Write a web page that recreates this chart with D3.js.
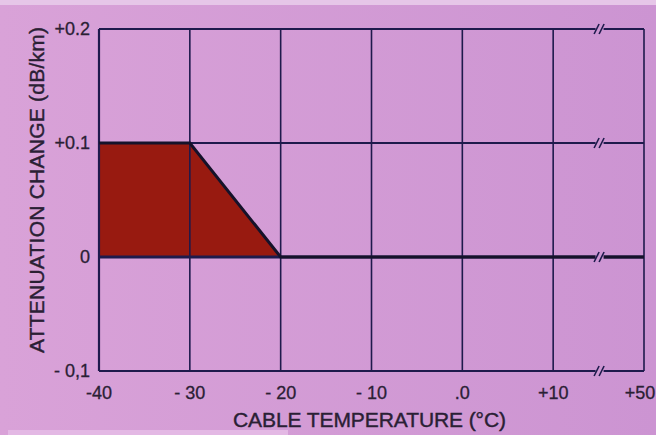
<!DOCTYPE html>
<html>
<head>
<meta charset="utf-8">
<script src="https://cdn.jsdelivr.net/npm/d3@7"></script>
<style>
  body { margin: 0; background: #d09ad4; }
  svg { display: block; }
</style>
</head>
<body>
<script>
// data
var xTicks = [-40, -30, -20, -10, 0, 10, 20];   // 20 = position after the axis break
var xLabels = ["-40", "- 30", "- 20", "- 10", ".0", "+10", "+50"];
var yTicks = [-0.1, 0, 0.1, 0.2];
var yLabels = ["- 0,1", "0", "+0.1", "+0.2"];
var bandTemp = [-40, -30, -20, 20];
var bandVal = [0.1, 0.1, 0, 0];

var w = 656, h = 435;
var ink = "#1e1a4c";
var txt = "#2a2034";
var font = "'Liberation Sans', Arial, Helvetica, sans-serif";

var svg = d3.select("body").append("svg")
  .attr("width", w)
  .attr("height", h);

// paper background
var defs = svg.append("defs");
var grad = defs.append("linearGradient").attr("id", "paper");
grad.append("stop").attr("offset", "0%").attr("stop-color", "#d9a2d8");
grad.append("stop").attr("offset", "100%").attr("stop-color", "#cc94d2");
svg.append("rect").attr("width", w).attr("height", h).attr("fill", "url(#paper)");
svg.append("rect").attr("width", w).attr("height", 5).attr("fill", "#e6c6e8");
svg.append("rect").attr("x", 8).attr("y", 430).attr("width", 280).attr("height", 5).attr("fill", "#e3b8e4");

var x = d3.scaleLinear().domain([-40, 20]).range([99, 644]);
var y = d3.scaleLinear().domain([-0.1, 0.2]).range([371, 29]);

// filled band
var band = bandTemp.map(function(t, i) { return [t, bandVal[i]]; });
var area = d3.area()
  .x(function(d) { return x(d[0]); })
  .y0(y(0))
  .y1(function(d) { return y(d[1]); });
svg.append("path")
  .datum(band.slice(0, 3))
  .attr("d", area)
  .attr("fill", "#981a10");

// grid
svg.append("g").selectAll("line")
  .data(xTicks)
  .join("line")
  .attr("x1", function(d) { return x(d); })
  .attr("x2", function(d) { return x(d); })
  .attr("y1", y(0.2))
  .attr("y2", y(-0.1))
  .attr("stroke", ink)
  .attr("stroke-width", function(d, i) { return i == 0 ? 2.2 : 1.6; });

svg.append("g").selectAll("line")
  .data(yTicks)
  .join("line")
  .attr("x1", x(-40))
  .attr("x2", x(20))
  .attr("y1", function(d) { return y(d); })
  .attr("y2", function(d) { return y(d); })
  .attr("stroke", ink)
  .attr("stroke-width", function(d) { return d == 0 ? 3 : 1.8; });

// band outline
var line = d3.line()
  .x(function(d) { return x(d[0]); })
  .y(function(d) { return y(d[1]); });
svg.append("path")
  .datum(band)
  .attr("d", line)
  .attr("fill", "none")
  .attr("stroke", "#15122a")
  .attr("stroke-width", 3);

// axis break marks
var bx = (x(10) + x(20)) / 2 + 1;
var brk = svg.append("g").selectAll("g")
  .data(yTicks)
  .join("g")
  .attr("transform", function(d) { return "translate(" + bx + "," + y(d) + ")"; });
brk.append("rect")
  .attr("x", -4).attr("y", -4).attr("width", 8).attr("height", 8)
  .attr("fill", "#cd96d2");
brk.selectAll("line.s")
  .data([-3, 2])
  .join("line")
  .attr("x1", function(d) { return d - 2.5; })
  .attr("x2", function(d) { return d + 2.5; })
  .attr("y1", 5).attr("y2", -5)
  .attr("stroke", ink)
  .attr("stroke-width", 1.6);

// tick labels
svg.append("g").selectAll("text")
  .data(xTicks)
  .join("text")
  .attr("x", function(d, i) { return i == xTicks.length - 1 ? x(d) - 4 : x(d); })
  .attr("y", 399)
  .attr("text-anchor", "middle")
  .attr("font-family", font)
  .attr("font-size", 18)
  .attr("fill", txt)
  .attr("stroke", txt)
  .attr("stroke-width", 0.3)
  .text(function(d, i) { return xLabels[i]; });

svg.append("g").selectAll("text")
  .data(yTicks)
  .join("text")
  .attr("x", 90)
  .attr("y", function(d) { return y(d) + 6; })
  .attr("text-anchor", "end")
  .attr("font-family", font)
  .attr("font-size", 18)
  .attr("fill", txt)
  .attr("stroke", txt)
  .attr("stroke-width", 0.3)
  .text(function(d, i) { return yLabels[i]; });

// axis titles
svg.append("text")
  .attr("x", 233)
  .attr("y", 427)
  .attr("font-family", font)
  .attr("font-size", 21)
  .attr("textLength", 273)
  .attr("lengthAdjust", "spacing")
  .attr("fill", txt)
  .attr("stroke", txt)
  .attr("stroke-width", 0.4)
  .text("CABLE TEMPERATURE  (\u00B0C)");

svg.append("text")
  .attr("transform", "translate(44,353) rotate(-90)")
  .attr("font-family", font)
  .attr("font-size", 21)
  .attr("textLength", 326)
  .attr("lengthAdjust", "spacing")
  .attr("fill", txt)
  .attr("stroke", txt)
  .attr("stroke-width", 0.4)
  .text("ATTENUATION CHANGE (dB/km)");
</script>
</body>
</html>
